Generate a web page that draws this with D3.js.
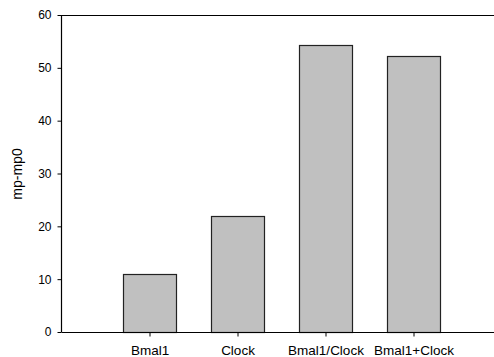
<!DOCTYPE html>
<html><head><meta charset="utf-8">
<script src="https://cdn.jsdelivr.net/npm/d3@7"></script>
<style>body{margin:0;background:#fff}svg{display:block}</style>
</head><body>
<script>
const categories = ["Bmal1", "Clock", "Bmal1/Clock", "Bmal1+Clock"];
const values = [11, 22, 54.4, 52.3];
const yTicks = [0, 10, 20, 30, 40, 50, 60];
const yLabel = "mp-mp0";

const W = 494, H = 357;
const svg = d3.select("body").append("svg").attr("width", W).attr("height", H);
const x = d3.scaleLinear().domain([0, 5]).range([61.5, 501.5]);
const y = d3.scaleLinear().domain([0, 60]).range([332, 15]);
const bw = 53;
const font = "Liberation Sans, Arial, sans-serif";

svg.append("g").selectAll("rect").data(values).join("rect")
  .attr("x", (d, i) => Math.round(x(i + 1) - bw / 2) + 0.5)
  .attr("y", d => Math.round(y(d)) + 0.5)
  .attr("width", bw)
  .attr("height", d => Math.round(y(0)) - Math.round(y(d)))
  .attr("fill", "#c0c0c0").attr("stroke", "#222").attr("stroke-width", 1.2);

// top frame line
svg.append("line").attr("x1", 61.5).attr("x2", W).attr("y1", 15.5).attr("y2", 15.5)
  .attr("stroke", "#000").attr("stroke-width", 1.2);

const yAxis = svg.append("g").attr("transform", "translate(61.5,0)")
  .call(d3.axisLeft(y).tickValues(yTicks).tickSize(4).tickPadding(6).tickFormat(d3.format("d")));
yAxis.select(".domain").attr("d", `M0,${y(60)}V${y(0)}`).attr("stroke-width", 1.2);
yAxis.selectAll("text").attr("font-family", font).attr("font-size", 12).attr("fill", "#000");

const xAxis = svg.append("g").attr("transform", `translate(0,${y(0) + 0.5})`)
  .call(d3.axisBottom(x).tickValues([1, 2, 3, 4]).tickSize(4).tickPadding(9)
    .tickFormat(d => categories[d - 1]));
xAxis.select(".domain").attr("d", `M61.5,0H${W}`).attr("stroke-width", 1.2);
xAxis.selectAll("text").attr("font-family", font).attr("font-size", 13.5).attr("fill", "#000");

svg.append("text").attr("transform", "translate(22,174) rotate(-90)")
  .attr("text-anchor", "middle").attr("font-family", font).attr("font-size", 14)
  .text(yLabel);
</script>
</body></html>
